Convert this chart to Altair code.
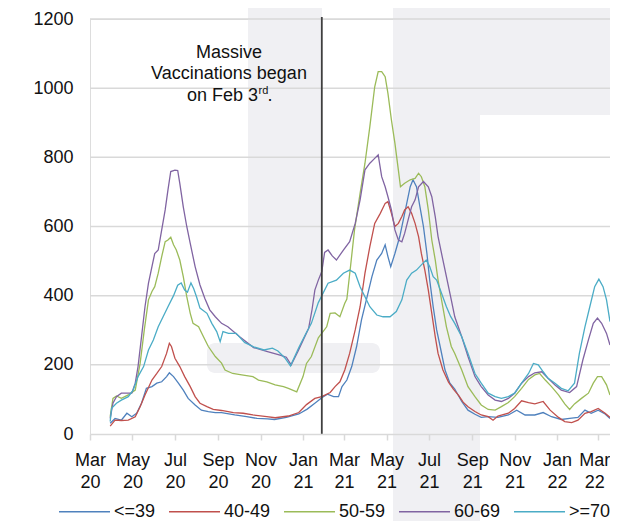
import altair as alt
import pandas as pd

START = "2020-03-01"          # day 0 of the day counters below
VAX_DATE = "2021-01-28"       # vertical marker (drawn where the reference shows it)

GROUPS = ["<=39", "40-49", "50-59", "60-69", ">=70"]
COLORS = ["#4F81BD", "#C0504D", "#9BBB59", "#8064A2", "#4BACC6"]

# ---- series: days since START, value -------------------------------------
DAYS_39 = [29, 36, 45, 53, 60, 67, 74, 81, 89, 96, 103, 110, 114, 120, 127, 134, 141, 151, 160, 170,
           180, 189, 208, 225, 240, 255, 265, 282, 300, 312, 323, 333, 341, 350, 357, 362, 369, 376,
           383, 390, 397, 405, 412, 419, 424, 428, 432, 438, 445, 452, 460, 464, 469, 474, 479, 484,
           488, 493, 498, 503, 510, 517, 524, 534, 543, 553, 562, 572, 586, 601, 613, 625, 639, 651,
           663, 677, 689, 701, 711, 720, 730, 740, 747]
VALS_39 = [31, 45, 40, 60, 50, 60, 89, 132, 137, 147, 151, 166, 177, 166, 147, 127, 103, 84, 69, 65,
           62, 62, 55, 50, 45, 44, 42, 48, 58, 72, 89, 105, 115, 108, 108, 137, 156, 195,
           253, 330, 388, 455, 503, 522, 547, 513, 484, 522, 571, 638, 715, 735, 715, 657, 600, 522,
           445, 368, 301, 253, 185, 147, 130, 94, 69, 57, 48, 50, 48, 55, 69, 55, 55, 62,
           50, 42, 45, 48, 69, 60, 69, 58, 45]

DAYS_40 = [29, 36, 45, 55, 65, 72, 79, 89, 96, 103, 110, 114, 117, 122, 129, 136, 144, 151, 158, 168,
           177, 189, 206, 220, 234, 254, 266, 285, 300, 311, 323, 333, 345, 352, 359, 366, 373, 381,
           388, 395, 402, 409, 417, 424, 428, 433, 438, 443, 448, 452, 457, 462, 467, 472, 476, 481,
           486, 491, 496, 500, 507, 515, 522, 530, 536, 543, 553, 562, 572, 579, 586, 601, 610, 620,
           630, 639, 651, 661, 673, 682, 692, 701, 711, 720, 730, 740, 747]
VALS_40 = [23, 40, 39, 40, 50, 79, 113, 156, 175, 195, 233, 262, 253, 219, 195, 166, 137, 108, 89, 79,
           71, 68, 62, 60, 55, 50, 47, 52, 62, 85, 103, 108, 120, 137, 151, 185, 233, 301,
           368, 465, 542, 609, 638, 667, 672, 638, 600, 609, 629, 648, 657, 638, 609, 571, 522, 474,
           416, 349, 281, 233, 185, 150, 130, 110, 92, 79, 65, 55, 50, 40, 52, 60, 74, 96,
           91, 87, 94, 69, 48, 36, 33, 40, 60, 65, 74, 60, 48]

DAYS_50 = [29, 33, 38, 45, 55, 65, 72, 78, 84, 89, 93, 98, 103, 108, 112, 116, 120, 124, 129, 134,
           139, 144, 148, 156, 163, 170, 180, 189, 194, 205, 218, 234, 242, 254, 266, 278, 285, 297,
           306, 311, 318, 328, 340, 345, 352, 359, 366, 369, 374, 380, 388, 395, 402, 409, 414, 419,
           424, 428, 433, 438, 443, 446, 452, 460, 467, 472, 476, 481, 486, 491, 496, 500, 505, 512,
           519, 524, 534, 543, 553, 562, 572, 582, 591, 601, 610, 620, 630, 639, 646, 654, 663, 673,
           682, 689, 696, 706, 716, 723, 729, 735, 742, 747]
VALS_50 = [50, 103, 110, 103, 113, 127, 204, 301, 388, 412, 426, 465, 513, 556, 561, 569, 547, 532, 503, 455,
           397, 349, 320, 310, 281, 253, 224, 205, 185, 175, 171, 166, 156, 151, 142, 137, 132, 122,
           166, 204, 224, 278, 310, 349, 350, 339, 378, 390, 480, 590, 696, 783, 889, 1004, 1048, 1048,
           1033, 985, 908, 841, 763, 715, 725, 735, 739, 754, 744, 715, 648, 561, 503, 445, 388, 310,
           253, 233, 185, 137, 108, 84, 71, 69, 79, 91, 108, 132, 158, 171, 175, 156, 137, 113,
           87, 71, 87, 103, 118, 147, 166, 166, 142, 113]

DAYS_60 = [29, 33, 38, 45, 60, 65, 69, 74, 79, 84, 89, 93, 98, 103, 108, 112, 116, 122, 126, 129,
           134, 139, 144, 151, 158, 165, 172, 180, 189, 198, 215, 235, 255, 273, 282, 289, 299, 307,
           314, 319, 323, 328, 333, 337, 342, 348, 354, 364, 373, 381, 388, 395, 402, 409, 414, 419,
           424, 428, 433, 438, 443, 448, 452, 457, 462, 467, 472, 479, 486, 491, 496, 500, 505, 512,
           519, 524, 534, 543, 553, 562, 572, 582, 591, 601, 610, 620, 630, 639, 649, 658, 668, 677,
           689, 699, 708, 716, 723, 729, 735, 742, 747]
VALS_60 = [45, 89, 108, 118, 118, 147, 195, 281, 368, 436, 484, 522, 532, 590, 648, 706, 759, 763, 762, 725,
           657, 600, 551, 484, 431, 392, 359, 339, 320, 310, 281, 250, 238, 228, 222, 200, 240, 275,
           305, 360, 416, 445, 470, 525, 532, 515, 503, 532, 556, 609, 677, 764, 783, 797, 807, 744,
           715, 686, 648, 590, 561, 556, 580, 619, 657, 677, 715, 730, 715, 686, 628, 571, 522, 455,
           388, 339, 281, 224, 166, 137, 113, 98, 94, 103, 118, 147, 166, 177, 180, 161, 142, 127,
           120, 137, 214, 272, 320, 335, 320, 291, 257]

DAYS_70 = [29, 31, 38, 45, 55, 62, 69, 77, 84, 91, 98, 105, 112, 120, 126, 131, 136, 140, 145, 149,
           153, 158, 168, 175, 182, 187, 191, 199, 210, 222, 235, 250, 262, 270, 280, 288, 300, 310,
           318, 328, 342, 354, 364, 373, 381, 388, 395, 402, 412, 421, 431, 440, 448, 455, 462, 469,
           476, 483, 488, 493, 498, 505, 512, 518, 524, 534, 543, 553, 562, 572, 582, 591, 601, 610,
           620, 630, 637, 644, 651, 658, 668, 677, 687, 696, 703, 711, 718, 725, 731, 737, 742, 747]
VALS_70 = [36, 74, 89, 98, 108, 127, 166, 195, 243, 272, 310, 339, 368, 400, 430, 437, 416, 410, 437, 420,
           397, 364, 349, 320, 296, 267, 296, 291, 291, 265, 252, 243, 248, 240, 220, 197, 250, 290,
           320, 380, 436, 445, 465, 474, 465, 426, 397, 368, 344, 339, 339, 354, 388, 445, 465, 474,
           489, 503, 484, 455, 445, 407, 368, 340, 320, 281, 233, 175, 147, 118, 108, 103, 108, 118,
           147, 175, 204, 200, 180, 161, 147, 132, 125, 147, 233, 310, 368, 426, 448, 426, 388, 325]

Y_TICKS = [0, 200, 400, 600, 800, 1000, 1200]
X_TICKS = [(2020, 3), (2020, 5), (2020, 7), (2020, 9), (2020, 11), (2021, 1),
           (2021, 3), (2021, 5), (2021, 7), (2021, 9), (2021, 11), (2022, 1), (2022, 3)]
X_DOMAIN = [(2020, 3, 1), (2022, 3, 18)]

NOTE_LINES = ["Massive", "Vaccinations began"]
NOTE_LAST = ["on Feb 3", "rd", "."]

# ---- build table -----------------------------------------------------------
days = [DAYS_39, DAYS_40, DAYS_50, DAYS_60, DAYS_70]
vals = [VALS_39, VALS_40, VALS_50, VALS_60, VALS_70]
frames = []
for g, d, v in zip(GROUPS, days, vals):
    frames.append(pd.DataFrame({"group": g, "day": d, "value": v}))
df = pd.concat(frames, ignore_index=True)
df["date"] = (pd.Timestamp(START) + pd.to_timedelta(df["day"], unit="D")).dt.strftime("%Y-%m-%d")

FONT = "Liberation Sans"
TXT = "#111111"
WM = "#f0f0f3"
GRID = "#d9d9d9"

x_scale = alt.Scale(
    type="utc",
    domain=[alt.DateTime(year=y, month=m, date=d, utc=True) for (y, m, d) in X_DOMAIN],
)
y_scale = alt.Scale(domain=[0, 1200])
x_axis = alt.Axis(
    values=[alt.DateTime(year=y, month=m, date=1, utc=True) for (y, m) in X_TICKS],
    labelExpr="[utcFormat(datum.value, '%b'), utcFormat(datum.value, '%y')]",
    grid=False, domainColor=GRID, domainWidth=1.5,
    tickColor=GRID, tickWidth=1.5, tickSize=6,
    labelPadding=11, labelLineHeight=22, labelFontSize=18, labelFont=FONT,
    labelColor=TXT, labelOverlap=False, labelFlush=False, title=None, zindex=1,
    # keep the last label inside the page edge
    labelOffset={"condition": {"test": "utcyear(datum.value) == 2022 && utcmonth(datum.value) == 2",
                               "value": -4}, "value": 0},
)
y_axis = alt.Axis(
    values=Y_TICKS, format="d", grid=False,
    domain=False, ticks=False, labelPadding=17, labelFontSize=18, labelFont=FONT,
    labelColor=TXT, title=None,
)

# ---- faint watermark behind the plot ---------------------------------------
def wm(x, x2, y, y2, r=0):
    return alt.Chart(pd.DataFrame({"k": [0]})).mark_rect(color=WM, cornerRadius=r).encode(
        x=alt.value(x), x2=alt.value(x2), y=alt.value(y), y2=alt.value(y2))

water = [wm(158, 232, -19, 354), wm(117, 290, 324, 354, 8), wm(303, 390, -19, 502), wm(390, 520, -19, 96)]

grid = alt.Chart(pd.DataFrame({"v": Y_TICKS[1:]})).mark_rule(color=GRID, strokeWidth=1.5).encode(
    y=alt.Y("v:Q", scale=y_scale, axis=y_axis), x=alt.value(0), x2=alt.value(520))

lines = alt.Chart(df).mark_line(strokeWidth=1.3).encode(
    x=alt.X("date:T", scale=x_scale, axis=x_axis),
    y=alt.Y("value:Q", scale=y_scale, axis=y_axis),
    color=alt.Color(
        "group:N",
        scale=alt.Scale(domain=GROUPS, range=COLORS),
        sort=GROUPS,
        legend=alt.Legend(
            orient="none", legendX=-32, legendY=466, direction="horizontal", columns=5,
            title=None, symbolType="stroke", symbolSize=2601, symbolStrokeWidth=1.3,
            labelFontSize=18, labelFont=FONT, labelColor=TXT, labelOffset=3,
            columnPadding=10, padding=0,
        ),
    ),
)

rule = alt.Chart(pd.DataFrame({"date": [VAX_DATE]})).mark_rule(color="#3f3f3f", strokeWidth=1.8).encode(
    x=alt.X("date:T", scale=x_scale), y=alt.value(-2), y2=alt.value(415))


def note(text, x, y, size=18, align="center"):
    return alt.Chart(pd.DataFrame({"text": [text]})).mark_text(
        font=FONT, fontSize=size, color=TXT, align=align, baseline="middle").encode(
        text="text:N", x=alt.value(x), y=alt.value(y))


notes = [
    note(NOTE_LINES[0], 139, 34),
    note(NOTE_LINES[1], 139, 55),
    note(NOTE_LAST[0], 168, 77, align="right"),
    note(NOTE_LAST[1], 168.5, 72, size=11, align="left"),
    note(NOTE_LAST[2], 177.5, 77, align="left"),
]

chart = alt.layer(*water, grid, lines, rule, *notes).properties(
    width=520, height=415,
    autosize=alt.AutoSizeParams(type="none"),
    padding={"left": 82, "top": 11, "right": 0, "bottom": 87},
).configure_view(stroke=None).configure(font=FONT)

chart.save("out.html", embed_options={"renderer": "svg", "actions": False})
